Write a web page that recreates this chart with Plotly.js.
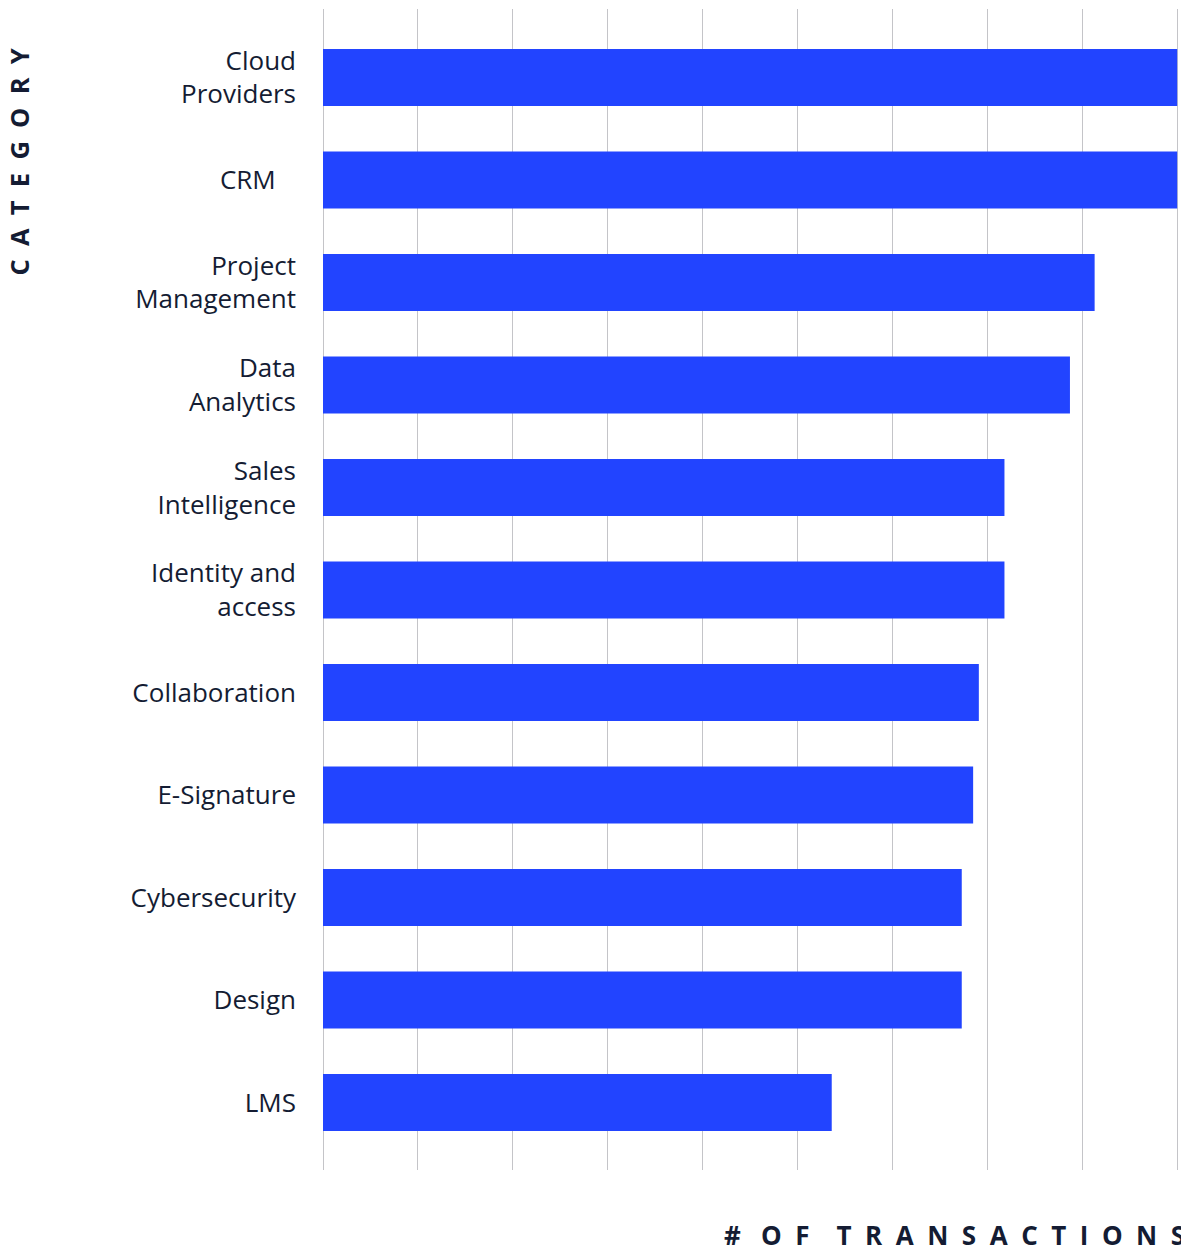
<!DOCTYPE html>
<html>
<head>
<meta charset="utf-8">
<script src="https://cdn.plot.ly/plotly-3.0.1.min.js"></script>
<style>html,body{margin:0;padding:0;background:#fff;}#chart{width:1181px;height:1248px;}</style>
</head>
<body>
<div id="chart"></div>
<script>
const categories = ["Cloud<br>Providers", "CRM\u00a0\u00a0\u00a0", "Project<br>Management", "Data<br>Analytics", "Sales<br>Intelligence", "Identity and<br>access", "Collaboration", "E-Signature", "Cybersecurity", "Design", "LMS"];
const values = [90, 90, 81.3, 78.7, 71.8, 71.8, 69.1, 68.5, 67.3, 67.3, 53.6];
const xTitle = "#\u00a0\u00a0 O\u00a0 F\u00a0\u00a0\u00a0 T\u00a0 R\u00a0 A\u00a0 N\u00a0 S\u00a0 A\u00a0 C\u00a0 T\u00a0 I\u00a0 O\u00a0 N\u00a0 S";
const yTitle = "C\u00a0 A\u00a0 T\u00a0 E\u00a0 G\u00a0 O\u00a0 R\u00a0 Y";

const textColor = "#141c33";
const fontFam = "Open Sans, sans-serif";

const data = [{
  type: "bar",
  orientation: "h",
  y: categories,
  x: values,
  marker: {color: "#2244ff"},
  width: 0.556,
  hoverinfo: "x+y"
}];

const layout = {
  width: 1181,
  height: 1248,
  margin: {l: 323, r: 0, t: 9, b: 78, pad: 0},
  paper_bgcolor: "#ffffff",
  plot_bgcolor: "#ffffff",
  showlegend: false,
  font: {family: fontFam, color: textColor, size: 26},
  xaxis: {
    range: [0, 90.4],
    dtick: 10,
    tick0: 0,
    showgrid: true,
    gridcolor: "#c4c4c8",
    gridwidth: 1,
    zeroline: true,
    zerolinecolor: "#c4c4c8",
    zerolinewidth: 1,
    showticklabels: false,
    ticks: "",
    showline: false,
    fixedrange: true
  },
  yaxis: {
    type: "category",
    range: [10.658, -0.668],
    showgrid: false,
    zeroline: false,
    showline: false,
    ticks: "",
    ticklabelstandoff: 26,
    tickfont: {family: fontFam, color: textColor, size: 26},
    fixedrange: true
  },
  annotations: [
    {
      text: yTitle,
      xref: "paper", yref: "paper",
      x: -323/858, xanchor: "left",
      y: 1 + (9-47)/1161, yanchor: "top",
      textangle: -90,
      showarrow: false,
      font: {family: fontFam, size: 25.5, weight: 700, color: textColor}
    },
    {
      text: xTitle,
      xref: "paper", yref: "paper",
      x: (722-323)/858, xanchor: "left",
      y: -(1215-1170)/1161, yanchor: "top",
      showarrow: false,
      font: {family: fontFam, size: 26, weight: 700, color: textColor}
    }
  ]
};

Plotly.newPlot("chart", data, layout, {displayModeBar: false, staticPlot: false});
</script>
</body>
</html>
